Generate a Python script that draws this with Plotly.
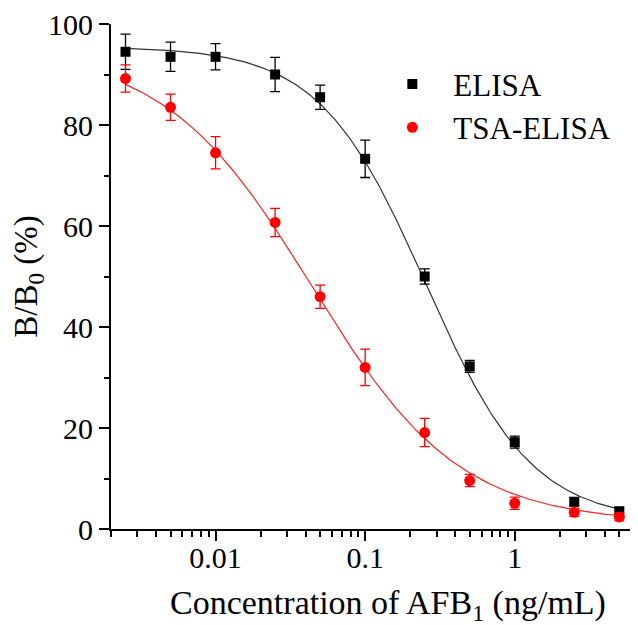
import numpy as np
import plotly.graph_objects as go

# Data
conc = [0.0025, 0.005, 0.01, 0.025, 0.05, 0.1, 0.25, 0.5, 1, 2.5, 5]
elisa = [94.5, 93.5, 93.5, 90.0, 85.5, 73.3, 50.0, 32.2, 17.2, 5.4, 3.4]
elisa_err = [3.5, 2.9, 2.6, 3.4, 2.4, 3.7, 1.5, 1.2, 1.2, 0.8, 1.0]
tsa = [89.2, 83.5, 74.5, 60.7, 46.0, 32.0, 19.1, 9.6, 5.1, 3.3, 2.4]
tsa_err = [2.7, 2.6, 3.2, 2.8, 2.3, 3.6, 2.8, 1.2, 1.2, 0.8, 0.8]

# 4-parameter logistic fit parameters (top, bottom, IC50, slope)
elisa_fit = dict(top=95.5, bottom=1.5, ic50=0.255, hill=1.22)
tsa_fit = dict(top=95.0, bottom=1.2, ic50=0.044, hill=0.88)

x_major = [0.01, 0.1, 1]
x_labels = ["0.01", "0.1", "1"]
y_ticks = [0, 20, 40, 60, 80, 100]
y_minor = [10, 30, 50, 70, 90]

def logistic(x, p):
    x = np.asarray(x)
    return p["bottom"] + (p["top"] - p["bottom"]) / (1 + (x / p["ic50"]) ** p["hill"])

xfit = np.logspace(np.log10(0.0025), np.log10(5), 300)

FONT = "Liberation Serif"
XRANGE = [np.log10(0.002), 0.824]
fig = go.Figure()

fig.add_trace(go.Scatter(x=xfit, y=logistic(xfit, elisa_fit), mode="lines",
                         line=dict(color="#333333", width=1.2), showlegend=False, hoverinfo="skip"))
fig.add_trace(go.Scatter(x=xfit, y=logistic(xfit, tsa_fit), mode="lines",
                         line=dict(color="#ff2020", width=1.2), showlegend=False, hoverinfo="skip"))

fig.add_trace(go.Scatter(x=conc, y=elisa, mode="markers", name="ELISA",
                         marker=dict(symbol="square", size=10, color="black"),
                         error_y=dict(type="data", array=elisa_err, color="black", thickness=1.3, width=5)))
fig.add_trace(go.Scatter(x=conc, y=tsa, mode="markers", name="TSA-ELISA",
                         marker=dict(symbol="circle", size=11, color="red"),
                         error_y=dict(type="data", array=tsa_err, color="red", thickness=1.3, width=5)))

minor_vals = []
for d in [0.001, 0.01, 0.1, 1]:
    for k in range(2, 10):
        v = k * d
        if 0.002 <= v <= 7 and v not in x_major:
            minor_vals.append(v)

fig.update_layout(
    xaxis=dict(type="log", range=XRANGE, automargin=False,
               tickvals=x_major, ticktext=x_labels,
               ticks="outside", ticklen=10, tickwidth=2, tickcolor="black",
               ticklabelstandoff=-9, ticklabeloverflow="allow",
               minor=dict(tickvals=minor_vals, ticks="outside", ticklen=6, tickwidth=1.5, tickcolor="black"),
               showline=True, linecolor="black", linewidth=2, mirror=False,
               showgrid=False, zeroline=False,
               tickfont=dict(family=FONT, size=30, color="black")),
    # top frame line drawn by an overlaid axis on the top side
    xaxis2=dict(type="log", range=XRANGE, automargin=False, overlaying="x", anchor="y", side="top",
                showline=True, linecolor="black", linewidth=2, ticks="", showticklabels=False,
                showgrid=False, zeroline=False),
)
fig.update_yaxes(range=[0, 100], tickvals=y_ticks, automargin=False,
                 ticks="outside", ticklen=10, tickwidth=2, tickcolor="black",
                 ticklabeloverflow="allow",
                 minor=dict(tickvals=y_minor, ticks="outside", ticklen=5, tickwidth=1.5, tickcolor="black"),
                 showline=True, linecolor="black", linewidth=2, mirror=False,
                 showgrid=False, zeroline=False,
                 tickfont=dict(family=FONT, size=30, color="black"),
                 title=dict(text="B/B<sub>0</sub> (%)",
                            font=dict(family=FONT, size=33, color="black"), standoff=4))

# x-axis title (placed as annotation to match the offset of the original)
fig.add_annotation(text="Concentration of AFB<sub>1</sub> (ng/mL)", xref="paper", yref="paper",
                   x=0.526, y=-0.150, xanchor="center", yanchor="middle", showarrow=False,
                   font=dict(family=FONT, size=34, color="black"))

fig.update_layout(width=638, height=625, margin=dict(l=103, r=8, t=16, b=104),
                  paper_bgcolor="white", plot_bgcolor="white",
                  legend=dict(x=0.494, y=0.934, xanchor="left", yanchor="top",
                              font=dict(family=FONT, size=31, color="black"),
                              bgcolor="rgba(0,0,0,0)", itemwidth=72, tracegroupgap=0))

fig.write_html("out.html")
